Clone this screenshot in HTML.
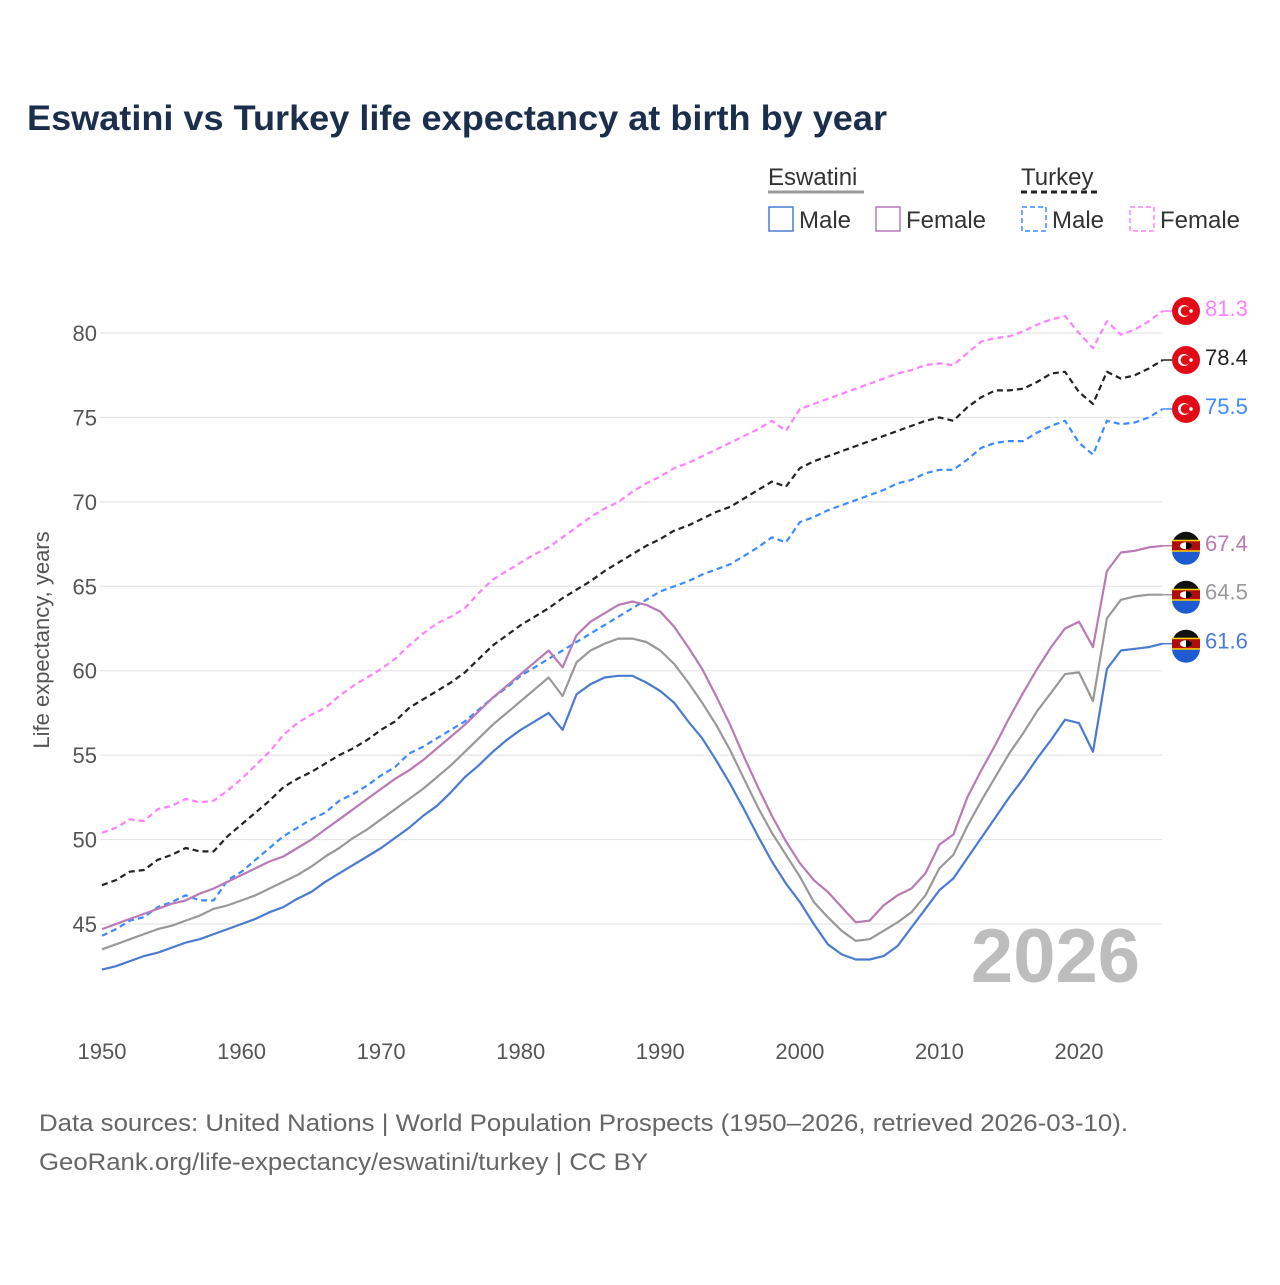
<!DOCTYPE html>
<html><head><meta charset="utf-8"><style>
body{margin:0;background:#fff;font-family:"Liberation Sans",sans-serif}
svg text{font-family:"Liberation Sans",sans-serif}
</style></head><body>
<svg id="chart" width="1280" height="1280" viewBox="0 0 1280 1280" xmlns="http://www.w3.org/2000/svg">
<rect width="1280" height="1280" fill="#fff"/>
<text x="27" y="130" font-size="35" font-weight="bold" fill="#1b2f4d" textLength="860" lengthAdjust="spacingAndGlyphs">Eswatini vs Turkey life expectancy at birth by year</text>
<g font-size="24" fill="#333">
 <text x="768" y="185" fill="#333">Eswatini</text>
 <line x1="768" y1="192" x2="864" y2="192" stroke="#999" stroke-width="3"/>
 <text x="1021" y="185" fill="#333">Turkey</text>
 <line x1="1021" y1="192" x2="1098" y2="192" stroke="#222" stroke-width="3" stroke-dasharray="6,4"/>
 <g><rect x="769" y="207" width="24" height="24" fill="none" stroke="#4a7bd0" stroke-width="1.5"/><text x="799" y="228">Male</text></g>
 <g><rect x="876" y="207" width="24" height="24" fill="none" stroke="#b97ab5" stroke-width="1.5"/><text x="906" y="228">Female</text></g>
 <g><rect x="1022" y="207" width="24" height="24" fill="none" stroke="#3d8bff" stroke-width="1.5" stroke-dasharray="5,3"/><text x="1052" y="228">Male</text></g>
 <g><rect x="1130" y="207" width="24" height="24" fill="none" stroke="#ff80ff" stroke-width="1.5" stroke-dasharray="5,3"/><text x="1160" y="228">Female</text></g>
</g>
<g id="grid"></g>
<g id="yticks"></g>
<g id="xticks"></g>
<text transform="translate(49,640) rotate(-90)" text-anchor="middle" font-size="22" fill="#555">Life expectancy, years</text>
<text x="1140" y="982" text-anchor="end" font-size="76" font-weight="bold" fill="#bdbdbd">2026</text>
<g id="series"></g>
<g id="endlabels"></g>
<text x="39" y="1131" font-size="24" fill="#666" textLength="1089" lengthAdjust="spacingAndGlyphs">Data sources: United Nations | World Population Prospects (1950–2026, retrieved 2026-03-10).</text>
<text x="39" y="1170" font-size="24" fill="#666" textLength="609" lengthAdjust="spacingAndGlyphs">GeoRank.org/life-expectancy/eswatini/turkey | CC BY</text>
</svg>
<script>
const years = Array.from({length:77},(_,i)=>1950+i);
const yTicks = [45,50,55,60,65,70,75,80];
const xTicks = [1950,1960,1970,1980,1990,2000,2010,2020];
const eswatiniMale = [42.3,42.5,42.8,43.1,43.3,43.6,43.9,44.1,44.4,44.7,
45.0,45.3,45.7,46.0,46.5,46.9,47.5,48.0,48.5,49.0,
49.5,50.1,50.7,51.4,52.0,52.8,53.7,54.4,55.2,55.9,
56.5,57.0,57.5,56.5,58.6,59.2,59.6,59.7,59.7,59.3,
58.8,58.1,57.0,56.0,54.7,53.3,51.8,50.2,48.7,47.4,
46.3,45.0,43.8,43.2,42.9,42.9,43.1,43.7,44.8,45.9,
47.0,47.7,48.9,50.1,51.3,52.5,53.6,54.8,55.9,57.1,
56.9,55.2,60.1,61.2,61.3,61.4,61.6];
const eswatiniTotal = [43.5,43.8,44.1,44.4,44.7,44.9,45.2,45.5,45.9,46.1,
46.4,46.7,47.1,47.5,47.9,48.4,49.0,49.5,50.1,50.6,
51.2,51.8,52.4,53.0,53.7,54.4,55.2,56.0,56.8,57.5,
58.2,58.9,59.6,58.5,60.5,61.2,61.6,61.9,61.9,61.7,
61.2,60.4,59.3,58.1,56.8,55.3,53.6,51.9,50.4,49.1,
47.8,46.3,45.4,44.6,44.0,44.1,44.6,45.1,45.7,46.7,
48.3,49.1,50.8,52.3,53.7,55.1,56.3,57.6,58.7,59.8,
59.9,58.2,63.1,64.2,64.4,64.5,64.5];
const eswatiniFemale = [44.7,45.0,45.3,45.6,45.9,46.2,46.4,46.8,47.1,47.5,
47.9,48.3,48.7,49.0,49.5,50.0,50.6,51.2,51.8,52.4,
53.0,53.6,54.1,54.7,55.4,56.1,56.8,57.6,58.4,59.1,
59.8,60.5,61.2,60.2,62.1,62.9,63.4,63.9,64.1,63.9,
63.5,62.6,61.4,60.1,58.5,56.8,54.9,53.1,51.4,49.9,
48.6,47.6,46.9,46.0,45.1,45.2,46.1,46.7,47.1,48.0,
49.7,50.3,52.5,54.1,55.6,57.2,58.7,60.1,61.4,62.5,
62.9,61.4,65.9,67.0,67.1,67.3,67.4];
const turkeyMale = [44.3,44.7,45.2,45.4,46.0,46.3,46.7,46.4,46.4,47.6,
48.1,48.8,49.5,50.2,50.7,51.2,51.6,52.3,52.7,53.2,
53.8,54.3,55.1,55.5,56.0,56.5,57.0,57.7,58.4,59.0,
59.7,60.2,60.7,61.2,61.7,62.2,62.7,63.2,63.7,64.2,
64.7,65.0,65.3,65.7,66.0,66.3,66.8,67.3,67.9,67.6,
68.8,69.1,69.5,69.8,70.1,70.4,70.7,71.1,71.3,71.7,
71.9,71.9,72.5,73.2,73.5,73.6,73.6,74.1,74.5,74.8,
73.5,72.8,74.8,74.6,74.7,75.0,75.5];
const turkeyTotal = [47.3,47.6,48.1,48.2,48.8,49.1,49.5,49.3,49.3,50.2,
50.9,51.6,52.3,53.1,53.6,54.0,54.5,55.0,55.4,55.9,
56.5,57.0,57.8,58.3,58.8,59.3,59.9,60.7,61.5,62.1,
62.7,63.2,63.7,64.3,64.8,65.3,65.9,66.4,66.9,67.4,
67.8,68.3,68.6,69.0,69.4,69.7,70.2,70.7,71.2,70.9,
72.0,72.4,72.7,73.0,73.3,73.6,73.9,74.2,74.5,74.8,
75.0,74.8,75.6,76.2,76.6,76.6,76.7,77.1,77.6,77.7,
76.5,75.8,77.7,77.3,77.5,77.9,78.4];
const turkeyFemale = [50.4,50.7,51.2,51.1,51.8,52.0,52.4,52.2,52.3,52.9,
53.6,54.4,55.2,56.2,56.9,57.4,57.8,58.5,59.1,59.6,
60.1,60.7,61.5,62.2,62.8,63.2,63.7,64.6,65.4,65.9,
66.4,66.9,67.3,67.9,68.5,69.1,69.6,70.0,70.6,71.1,
71.5,72.0,72.3,72.7,73.1,73.5,73.9,74.3,74.8,74.2,
75.5,75.8,76.1,76.4,76.7,77.0,77.3,77.6,77.8,78.1,
78.2,78.1,78.8,79.5,79.7,79.8,80.1,80.5,80.8,81.0,
80.0,79.1,80.7,79.9,80.2,80.7,81.3];

const NS='http://www.w3.org/2000/svg';
const X0=102, X1=1079, Y80=333, Y45=924;
const xs = y => X0 + (y-1950)*(X1-X0)/70;
const ys = v => Y80 + (80-v)*(Y45-Y80)/35;
function mk(tag, attrs, parent){const e=document.createElementNS(NS,tag);for(const k in attrs)e.setAttribute(k,attrs[k]);parent.appendChild(e);return e;}

const grid=document.getElementById('grid'), yt=document.getElementById('yticks'), xt=document.getElementById('xticks');
yTicks.forEach(v=>{
  const l=mk('line',{x1:100,x2:1162,y1:ys(v),y2:ys(v),stroke:'#e6e6e6','stroke-width':1.2},grid);
  
  
  const t=mk('text',{x:97,y:ys(v)+8,'text-anchor':'end','font-size':22,fill:'#555'},yt);
  t.textContent=v;
  
  
});
xTicks.forEach(y=>{
  const t=mk('text',{x:xs(y),y:1059,'text-anchor':'middle','font-size':22,fill:'#555'},xt);
  t.textContent=y;
  
  
});

const seriesDefs=[
  {name:'turkey-female',data:turkeyFemale,color:'#ff80ff',dash:'6,4',label:'#ff80ff',flag:'tr'},
  {name:'turkey-total',data:turkeyTotal,color:'#222',dash:'6,4',label:'#222',flag:'tr'},
  {name:'turkey-male',data:turkeyMale,color:'#3d8bff',dash:'6,4',label:'#3d8bff',flag:'tr'},
  {name:'eswatini-female',data:eswatiniFemale,color:'#b97ab5',dash:null,label:'#b97ab5',flag:'sz'},
  {name:'eswatini-total',data:eswatiniTotal,color:'#999',dash:null,label:'#999',flag:'sz'},
  {name:'eswatini-male',data:eswatiniMale,color:'#4a7bd0',dash:null,label:'#4a7bd0',flag:'sz'}
];
const sg=document.getElementById('series'), eg=document.getElementById('endlabels');
seriesDefs.forEach(s=>{
  const d=s.data.map((v,i)=>(i?'L':'M')+xs(years[i]).toFixed(1)+','+ys(v).toFixed(1)).join('');
  const a={d:d,fill:'none',stroke:s.color,'stroke-width':2.2,'stroke-linejoin':'round'};
  if(s.dash)a['stroke-dasharray']=s.dash;
  const p=mk('path',a,sg);
  
  
  const last=s.data[s.data.length-1];
  const lx=xs(years[years.length-1]), ly=ys(last);
  mk('line',{x1:lx,x2:1172,y1:ly,y2:ly,stroke:s.color,'stroke-width':1.5},eg);
  const cx=1186;
  const g=mk('g',{},eg);
  
  
  if(s.flag==='tr'){
    mk('circle',{cx:cx,cy:ly,r:14,fill:'#e30a17'},g);
    mk('circle',{cx:cx-2,cy:ly,r:6,fill:'#fff'},g);
    mk('circle',{cx:cx-0.5,cy:ly,r:4.8,fill:'#e30a17'},g);
    mk('circle',{cx:cx+5,cy:ly,r:1.8,fill:'#fff'},g);
  } else {
    mk('circle',{cx:cx,cy:ly,r:14,fill:'#111'},g);
    mk('path',{d:`M${cx-14},${ly+5} A14,14 0 0 0 ${cx+14},${ly+5} Z`,fill:'#1f5bd0'},g);
    mk('rect',{x:cx-14,y:ly-6,width:28,height:12,fill:'#ffd200'},g);
    mk('rect',{x:cx-14,y:ly-4.5,width:28,height:9,fill:'#b10c0c'},g);
    mk('ellipse',{cx:cx,cy:ly,rx:6,ry:3.5,fill:'#fff'},g);
    mk('path',{d:`M${cx},${ly-3.5} A6,3.5 0 0 1 ${cx},${ly+3.5} Z`,fill:'#000'},g);
  }
  const t=mk('text',{x:1205,y:ly+5,'font-size':22,fill:s.label},eg);
  t.textContent=last.toFixed(1);
  
  
});
</script>
</body></html>
